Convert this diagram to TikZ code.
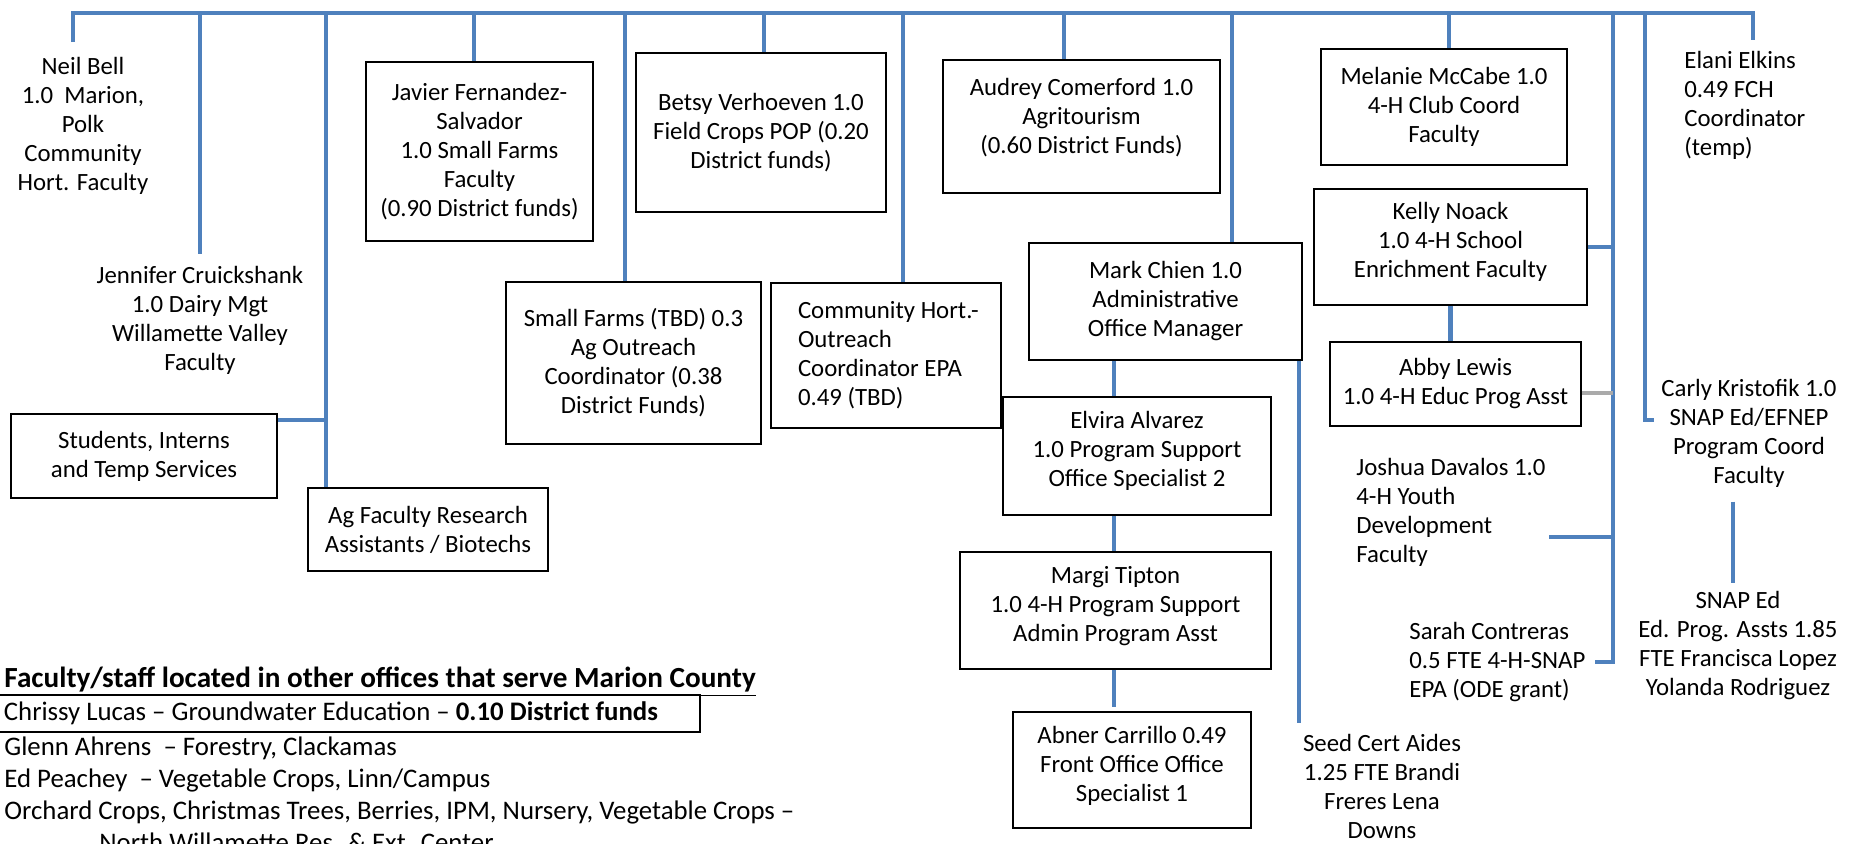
\documentclass[tikz,border=0pt]{standalone}
\usepackage{fontspec}
\setmainfont{Carlito}
\usetikzlibrary{positioning}

\definecolor{linkblue}{RGB}{79,129,189}
\definecolor{linkgray}{RGB}{170,170,170}

\newcommand{\listfont}{\fontsize{13.4}{16}\selectfont}

\tikzset{
  box/.style={draw=black, line width=0.9pt, align=center, inner sep=0pt},
  txt/.style={align=center, inner sep=0pt},
  listline/.style={inner sep=0pt, anchor=west, font=\listfont},
  link/.style={draw=linkblue, line width=2.2pt},
  graylink/.style={draw=linkgray, line width=2.2pt},
}

\begin{document}
\begin{tikzpicture}
[x=0.5pt, y=-0.5pt, font=\fontsize{12.4}{14.5}\selectfont]

\useasboundingbox (0,0) rectangle (1849,843);

% people without a box
\node[txt] (neil) at(83,126) {Neil Bell\\1.0\ \ Marion,\\Polk\\Community\\Hort. Faculty};
\node[txt] (jennifer) at(200,320) {Jennifer Cruickshank\\1.0 Dairy Mgt\\Willamette Valley\\Faculty};
\node[txt, align=flush left, anchor=west] (elani) at(1684,105) {Elani Elkins\\0.49 FCH\\Coordinator\\(temp)};
\node[txt, align=flush left, anchor=west] (joshua) at(1356,512) {Joshua Davalos 1.0\\4-H Youth\\Development\\Faculty};
\node[txt, align=flush left, anchor=west] (sarah) at(1409,662) {Sarah Contreras\\0.5 FTE 4-H-SNAP\\EPA (ODE grant)};
\node[txt] (carly) at(1749,433) {Carly Kristofik 1.0\\SNAP Ed/EFNEP\\Program Coord\\Faculty};
\node[txt] (snap) at(1738,646) {SNAP Ed\\Ed. Prog. Assts 1.85\\FTE Francisca Lopez\\Yolanda Rodriguez};
\node[txt] (seed) at(1382,786) {Seed Cert Aides\\1.25 FTE Brandi\\Freres Lena\\Downs};

% boxes
\node[box, minimum width=113.5pt, minimum height=89.5pt] (javier) at(479.5,151.5) {Javier Fernandez-\\Salvador\\1.0 Small Farms\\Faculty\\(0.90 District funds)};
\node[box, minimum width=125pt, minimum height=79.5pt] (betsy) at(761,132.5) {Betsy Verhoeven 1.0\\Field Crops POP (0.20\\District funds)};
\node[box, minimum width=138.5pt, minimum height=66.5pt] (audrey) at(1081.5,126.5) {Audrey Comerford 1.0\\Agritourism\\(0.60 District Funds)\\[-4pt]\mbox{}};
\node[box, minimum width=123pt, minimum height=58pt] (melanie) at(1444,107) {Melanie McCabe 1.0\\4-H Club Coord\\Faculty};
\node[box, minimum width=136.5pt, minimum height=58pt] (kelly) at(1450.5,247) {Kelly Noack\\1.0 4-H School\\Enrichment Faculty\\[-7pt]\mbox{}};
\node[box, minimum width=125.5pt, minimum height=42pt] (abby) at(1455.5,384) {Abby Lewis\\1.0 4-H Educ Prog Asst};
\node[box, minimum width=127.5pt, minimum height=81pt] (smallfarms) at(633.5,363) {Small Farms (TBD) 0.3\\Ag Outreach\\Coordinator (0.38\\District Funds)};
\node[box, align=flush left, text width=88pt, minimum width=115pt, minimum height=72.5pt] (commhort) at(886,355.5) {\mbox{Community Hort.-}\\Outreach\\\mbox{Coordinator EPA}\\0.49 (TBD)};
\node[box, minimum width=136.5pt, minimum height=58.5pt] (mark) at(1165.5,301.5) {Mark Chien 1.0\\Administrative\\Office Manager};
\node[box, minimum width=134pt, minimum height=59pt] (elvira) at(1137,456) {Elvira Alvarez\\1.0 Program Support\\Office Specialist 2\\[-7pt]\mbox{}};
\node[box, minimum width=155.5pt, minimum height=58.5pt] (margi) at(1115.5,610.5) {Margi Tipton\\1.0 4-H Program Support\\Admin Program Asst\\[-8pt]\mbox{}};
\node[box, minimum width=119pt, minimum height=58pt] (abner) at(1132,770) {Abner Carrillo 0.49\\Front Office Office\\Specialist 1\\[-8pt]\mbox{}};
\node[box, minimum width=133pt, minimum height=42pt] (students) at(144,456) {Students, Interns\\and Temp Services};
\node[box, minimum width=120pt, minimum height=41.5pt] (agfac) at(428,529.5) {Ag Faculty Research\\Assistants / Biotechs};

% other offices
\node[listline, font=\fontsize{14.6}{16}\selectfont\bfseries] (other) at(4,682) {\underline{Faculty/staff located in other offices that serve Marion County}};
\node[draw=black, line width=0.9pt, anchor=west, align=flush left, text width=345pt, inner xsep=3pt, inner ysep=0pt, minimum height=18.5pt, font=\listfont] (chrissy) at(-3,713.5) {Chrissy Lucas – Groundwater Education – \textbf{0.10 District funds}};
\node[listline] (glenn) at(4,748) {Glenn Ahrens\ \ – Forestry, Clackamas};
\node[listline] (ed) at(4,780) {Ed Peachey\ \ – Vegetable Crops, Linn/Campus};
\node[listline] (orchard) at(4,812) {Orchard Crops, Christmas Trees, Berries, IPM, Nursery, Vegetable Crops –};
\node[listline] (north) at(99,842) {North Willamette Res. \& Ext. Center};

% top bar
\coordinate (tickL) at(73,42);
\coordinate (barL) at(73,13);
\coordinate (barR) at(1753,13);
\coordinate (tickR) at(1753,40);
\draw[link] (tickL) -- (barL) -- (barR) -- (tickR);

\coordinate (dJen) at(200,13);
\coordinate (dAg) at(326,13);
\coordinate (dJav) at(474,13);
\coordinate (dSF) at(625,13);
\coordinate (dBet) at(764,13);
\coordinate (dCH) at(903,13);
\coordinate (dAud) at(1064,13);
\coordinate (dMark) at(1232,13);
\coordinate (dMel) at(1449,13);
\coordinate (d4H) at(1613,13);
\coordinate (dSnap) at(1645,13);

\draw[link, shorten >=6pt] (dJen) -- (dJen |- jennifer.north);
\draw[link] (dAg) -- (dAg |- agfac.north);
\draw[link] (dJav) -- (dJav |- javier.north);
\draw[link] (dSF) -- (dSF |- smallfarms.north);
\draw[link] (dBet) -- (dBet |- betsy.north);
\draw[link] (dCH) -- (dCH |- commhort.north);
\draw[link] (dAud) -- (dAud |- audrey.north);
\draw[link] (dMark) -- (dMark |- mark.north);
\draw[link] (dMel) -- (dMel |- melanie.north);

\coordinate (jStud) at(326,420);
\draw[link] (students.east |- jStud) -- (jStud);

% admin chain
\coordinate (xAdm) at(1114,0);
\draw[link] (xAdm |- mark.south) -- (xAdm |- elvira.north);
\draw[link] (xAdm |- elvira.south) -- (xAdm |- margi.north);
\draw[link, shorten >=2pt] (xAdm |- margi.south) -- (xAdm |- abner.north);
\coordinate (xSeed) at(1299,0);
\draw[link, shorten >=5pt] (xSeed |- mark.south) -- (xSeed |- seed.north);

% 4-H
\draw[link] (kelly.south) -- (kelly.south |- abby.north);
\coordinate (jAbby) at(1613,393);
\coordinate (jJosh) at(1613,537);
\draw[link, shorten >=4.5pt] (d4H) |- (sarah.east);
\draw[link] (kelly.east) -- (kelly.east -| d4H);
\draw[graylink] (jAbby -| abby.east) -- (jAbby);
\draw[link, shorten >=1.5pt] (jJosh) -- (jJosh -| joshua.east);

% SNAP
\coordinate (jCarly) at(1645,420);
\draw[link, shorten >=3.5pt] (dSnap) -- (jCarly) -- (jCarly -| carly.west);
\coordinate (xSnap) at(1733,0);
\draw[link, shorten <=7pt, shorten >=4pt] (xSnap |- carly.south) -- (xSnap |- snap.north);

\end{tikzpicture}
\end{document}
